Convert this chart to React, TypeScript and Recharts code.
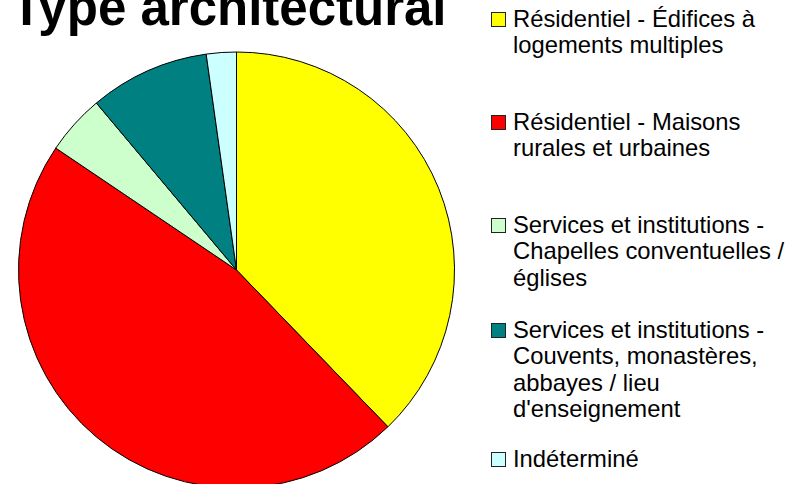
import { PieChart, Pie, Cell, Legend } from "recharts"

const categories = [
  "Résidentiel - Édifices à logements multiples",
  "Résidentiel - Maisons rurales et urbaines",
  "Services et institutions - Chapelles conventuelles / églises",
  "Services et institutions - Couvents, monastères, abbayes / lieu d'enseignement",
  "Indéterminé",
]
const counts = [17, 21, 2, 4, 1]
const colors = ["#FFFF00", "#FF0000", "#CCFFCC", "#008080", "#CCFFFF"]

const data = categories.map((name, i) => ({ name, value: counts[i] }))

// top of each legend entry (px)
const legendTops = [5.5, 108.5, 211.5, 316.5, 445.5]

const font = "'Liberation Sans', Arial, sans-serif"

function LegendBox() {
  return (
    <div style={{ position: "relative", width: 797, height: 484 }}>
      {categories.map((name, i) => (
        <div key={name} style={{ position: "absolute", left: 491, top: legendTops[i] }}>
          <div
            style={{
              position: "absolute",
              left: 0,
              top: 6.5,
              width: 13,
              height: 13,
              background: colors[i],
              border: "1px solid #222",
            }}
          />
          <div
            style={{
              position: "absolute",
              left: 22,
              top: 0,
              width: 286,
              fontFamily: font,
              fontSize: 23.8,
              lineHeight: "26.5px",
              color: "#000",
              textAlign: "left",
            }}
          >
            {name}
          </div>
        </div>
      ))}
    </div>
  )
}

export default function App() {
  return (
    <div style={{ position: "relative", width: 797, height: 484, overflow: "hidden", background: "#fff" }}>
      <style>{`body{margin:0}`}</style>
      <PieChart width={797} height={484} margin={{ top: 0, right: 0, bottom: 0, left: 0 }}>
        <text x={11} y={25} fontFamily={font} fontSize={51} fontWeight="bold" fill="#000">
          Type architectural
        </text>
        <Pie
          data={data}
          dataKey="value"
          nameKey="name"
          cx={236.5}
          cy={270}
          outerRadius={218}
          startAngle={90}
          endAngle={-270}
          stroke="#000"
          strokeWidth={1}
          isAnimationActive={false}
          label={false}
          labelLine={false}
        >
          {data.map((d, i) => (
            <Cell key={d.name} fill={colors[i]} />
          ))}
        </Pie>
        <Legend
          content={() => <LegendBox />}
          wrapperStyle={{ position: "absolute", left: 0, top: 0, width: 797, height: 484 }}
        />
      </PieChart>
    </div>
  )
}
